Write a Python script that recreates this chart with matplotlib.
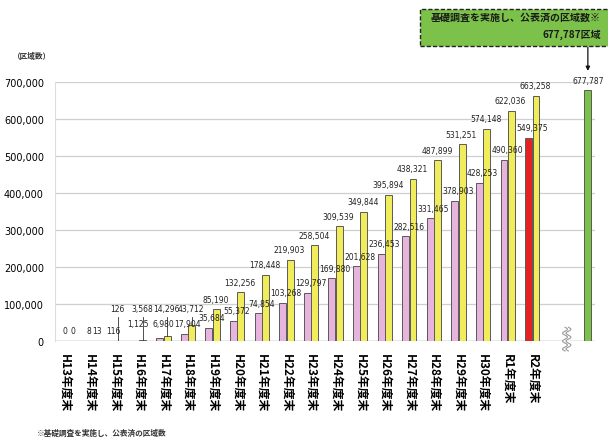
import numpy as np
import matplotlib
matplotlib.use("Agg")
import matplotlib.pyplot as plt
from matplotlib.patches import Rectangle
from matplotlib.transforms import blended_transform_factory

plt.rcParams['font.family'] = ['Noto Sans CJK JP', 'DejaVu Sans']

# Year-end labels and designated area counts
years = ["H13年度末", "H14年度末", "H15年度末", "H16年度末", "H17年度末",
         "H18年度末", "H19年度末", "H20年度末", "H21年度末", "H22年度末",
         "H23年度末", "H24年度末", "H25年度末", "H26年度末", "H27年度末",
         "H28年度末", "H29年度末", "H30年度末", "R1年度末", "R2年度末"]
special_zone = [0, 8, 116, 1125, 6980, 17904, 35684, 55372, 74854, 103268,
                129797, 169880, 201628, 236453, 282516, 331465, 378903,
                428253, 490360, 549375]
warning_zone = [0, 13, 126, 3568, 14296, 43712, 85190, 132256, 178448, 219903,
                258504, 309539, 349844, 395894, 438321, 487899, 531251,
                574148, 622036, 663258]
surveyed_total = 677787

PINK = "#e6b4dc"
YELLOW = "#f0ec5c"
RED = "#e42222"
GREEN = "#7cc24a"
EDGE = "#5a5a5a"
NUMFONT = ['Liberation Sans Narrow', 'DejaVu Sans']

fig = plt.figure(figsize=(6.08, 4.39), dpi=100)
ax = fig.add_axes([55 / 608, 97 / 439, 540 / 608, 259 / 439])

x = np.arange(len(years))
w = 0.28
pink_colors = [PINK] * (len(years) - 1) + [RED]
ax.bar(x - 0.15, special_zone, width=w, color=pink_colors, edgecolor=EDGE,
       linewidth=0.7, zorder=3)
ax.bar(x + 0.15, warning_zone, width=w, color=YELLOW, edgecolor=EDGE,
       linewidth=0.7, zorder=3)

# total surveyed bar, separated from the yearly series by a break mark
gx = 21.26
bx = 20.4
ax.bar([gx], [surveyed_total], width=w, color=GREEN, edgecolor=EDGE,
       linewidth=0.7, zorder=3)

# value labels
for i in range(len(years)):
    sv = special_zone[i]
    wv = warning_zone[i]
    if sv < 1000:
        sy = 0
    else:
        sy = max(sv, 20000)
    ax.annotate(f"{sv:,}", (i - 0.02, sy), xytext=(0, 4), textcoords="offset points",
                ha="center", va="bottom", fontsize=5.5, family=NUMFONT,
                color="#222222", zorder=5)
    if wv < 100:
        ax.annotate(f"{wv:,}", (i + 0.3, 0), xytext=(0, 4), textcoords="offset points",
                    ha="center", va="bottom", fontsize=5.5, family=NUMFONT,
                    color="#222222", zorder=5)
        continue
    wy = wv
    if wv < 60000:
        wy = 60000
        ax.plot([i + 0.15, i + 0.15], [wv, wy + 4000], color="#333333",
                lw=0.6, zorder=4)
    ax.annotate(f"{wv:,}", (i + 0.12, wy), xytext=(0, 4), textcoords="offset points",
                ha="center", va="bottom", fontsize=5.5, family=NUMFONT,
                color="#222222", zorder=5)

ax.annotate(f"{surveyed_total:,}", (gx, surveyed_total), xytext=(0, 4),
            textcoords="offset points", ha="center", va="bottom", fontsize=5.5,
            family=NUMFONT, color="#222222", zorder=5)

ax.set_xlim(-0.41, 21.55)
ax.set_ylim(0, 700000)
yt = np.arange(0, 700001, 100000)
ax.set_yticks(yt)
ax.set_yticklabels([f"{v:,}" for v in yt], fontsize=7, family=NUMFONT)
ax.set_xticks(x)
ax.set_xticklabels(years, rotation=270, fontsize=8.5, fontweight="bold")
ax.tick_params(axis="both", length=0)
ax.tick_params(axis="y", pad=8)
ax.tick_params(axis="x", pad=9)
ax.grid(axis="y", color="#cfcfcf", lw=0.9, zorder=0)
for s in ["top", "right", "bottom"]:
    ax.spines[s].set_visible(False)
ax.spines["left"].set_color("#dddddd")
ax.spines["left"].set_linewidth(0.8)
ax.axhline(0, color="#b0b0b0", lw=1.0, zorder=2)

# break mark on the baseline
t = np.linspace(-1, 1, 60)
yy = t * 32000 + 5000
for dx in (-0.07, 0.07):
    ax.plot(bx + dx + 0.1 * np.sin(t * 3 * np.pi), yy, color="#9a9a9a",
            lw=0.8, clip_on=False, zorder=6)
ax.fill_betweenx(yy, bx - 0.07 + 0.1 * np.sin(t * 3 * np.pi),
                 bx + 0.07 + 0.1 * np.sin(t * 3 * np.pi), color="white",
                 clip_on=False, zorder=5)

fig.text(13 / 608, 1 - 57 / 439, "（区域数）", fontsize=5.5, va="center",
         ha="left", fontweight="bold", color="#333333")
fig.text(37 / 608, 1 - 433 / 439, "※基礎調査を実施し、公表済の区域数", fontsize=5.5,
         va="center", ha="left", fontweight="bold", color="#333333")

# callout box for the surveyed total
box = Rectangle((420 / 608, 1 - 47 / 439), 200 / 608, 37 / 439,
                transform=fig.transFigure, facecolor=GREEN, edgecolor="#222222",
                linestyle=(0, (3, 1.5)), linewidth=1.0, clip_on=False)
fig.add_artist(box)
fig.text(601 / 608, 1 - 18 / 439, "基礎調査を実施し、公表済の区域数※",
         fontsize=7.2, fontweight="bold", ha="right", va="center", color="#1a1a1a")
fig.text(601 / 608, 1 - 35 / 439, "677,787区域", fontsize=7.2,
         fontweight="bold", ha="right", va="center", color="#1a1a1a")
trans = blended_transform_factory(ax.transData, fig.transFigure)
ax.annotate("", xy=(gx, 730000), xycoords="data",
            xytext=(gx, 1 - 48 / 439), textcoords=trans,
            arrowprops=dict(arrowstyle="-|>", color="#111111", lw=0.9,
                            mutation_scale=6, shrinkA=0, shrinkB=0),
            annotation_clip=False)

fig.savefig("out.png", dpi=100)
